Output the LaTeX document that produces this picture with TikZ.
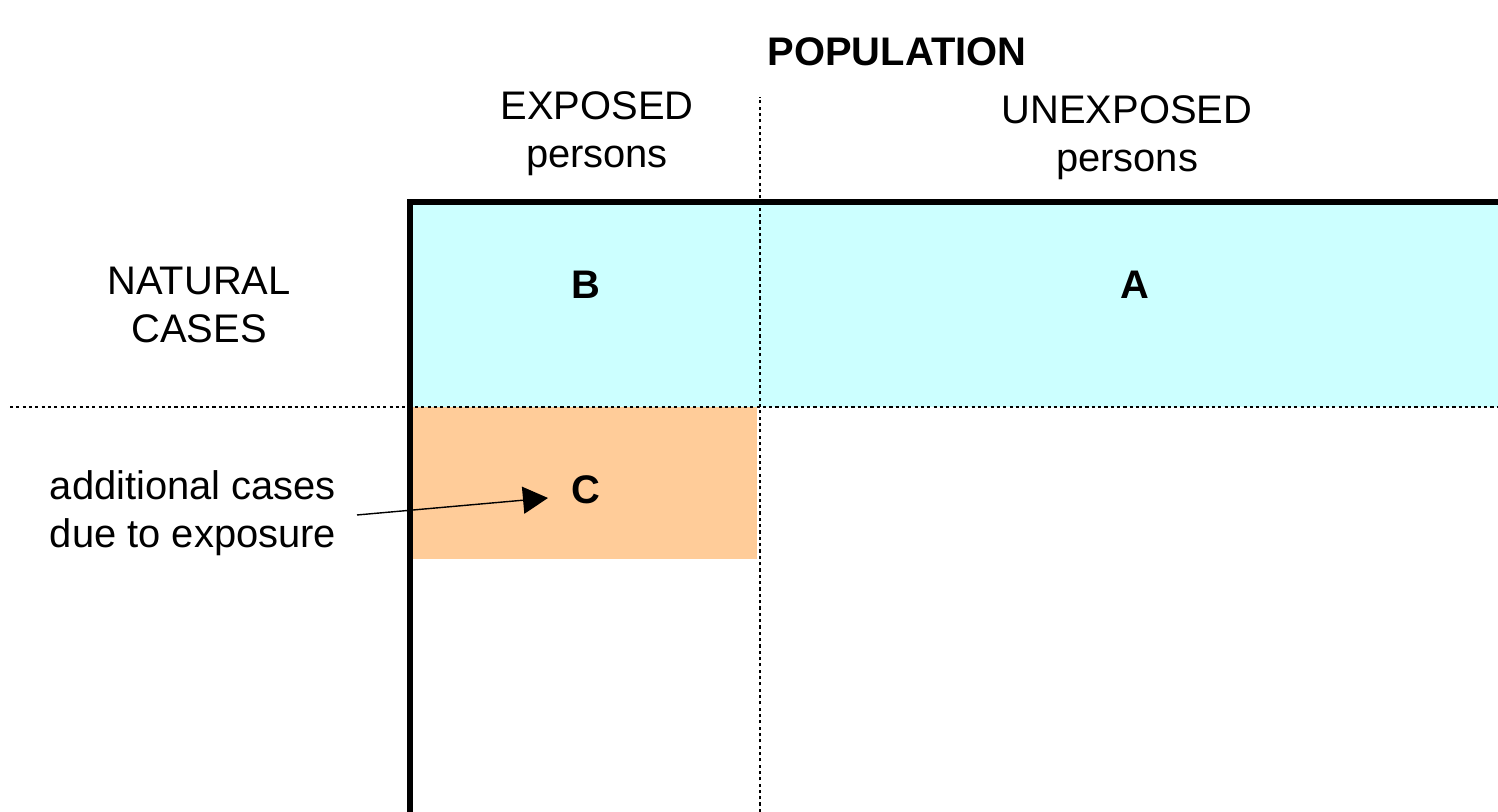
\documentclass[tikz,border=0pt]{standalone}
\usepackage{fontspec}
\setmainfont{Liberation Sans}
\usetikzlibrary{arrows.meta}
\definecolor{natural}{HTML}{CCFFFF}
\definecolor{extra}{HTML}{FFCC99}
\tikzset{
  label/.style={font=\fontsize{11.35}{13.6}\selectfont, align=center},
  letter/.style={font=\fontsize{11.35}{13.6}\selectfont\bfseries},
  divider/.style={line width=0.5pt, dash pattern=on 0.9pt off 0.9pt},
}
\begin{document}
\begin{tikzpicture}
      \useasboundingbox (0,0) rectangle (14.98,8.12);
      % areas
      \fill[natural] (4.10,4.05) rectangle (14.98,6.10);
      \fill[extra] (4.10,2.53) rectangle (7.57,4.05);
      \draw[divider] (7.60,0) -- (7.60,7.15); % exposed / unexposed
      \draw[divider] (0.10,4.05) -- (14.98,4.05); % natural cases
      \draw[line width=1.5pt] (4.10,0) -- (4.10,6.10) -- (14.98,6.10); % axes

      % labels
      \node[letter] (pop) at (8.97,7.60) {POPULATION};
      \node[label] (exp) at (5.97,6.78) {EXPOSED\\persons};
      \node[label] (unexp) at (11.27,6.74) {UNEXPOSED\\persons};
      \node[label] (nat) at (1.99,5.07) {NATURAL\\CASES};
      \node[letter] (B) at (5.86,5.27) {B};
      \node[letter] (A) at (11.35,5.27) {A};
      \node[letter] (C) at (5.86,3.22) {C};
      \node[label] (add) at (1.93,2.99) {additional cases\\due to exposure};

      % arrow
      \coordinate (tail) at (3.57,2.97);
      \coordinate (tip) at (5.48,3.14);
      \draw[-{Triangle[length=0.25cm,width=0.27cm]}, line width=0.4pt] (tail) -- (tip);
\end{tikzpicture}
\end{document}
